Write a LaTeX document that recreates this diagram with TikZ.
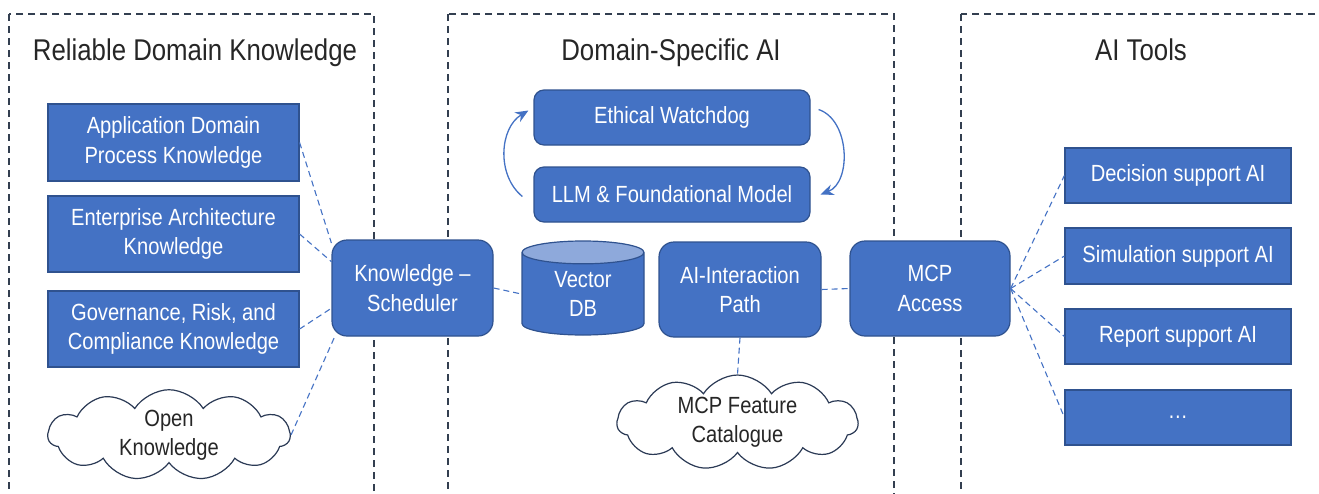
\documentclass[tikz,border=0pt]{standalone}
\usepackage{fontspec}
\setmainfont{Liberation Sans}[FakeStretch=0.86]
\usetikzlibrary{shapes.geometric,shapes.symbols,arrows.meta}

\definecolor{boxblue}{HTML}{4472C4}
\definecolor{boxedge}{HTML}{2F528F}
\definecolor{dbtop}{HTML}{8EA9DB}
\definecolor{frameline}{HTML}{333F50}
\definecolor{cloudedge}{HTML}{2B3A55}
\definecolor{titlegray}{HTML}{262626}

\tikzset{frame/.style={draw=frameline,line width=1.4pt,dash pattern=on 7pt off 5pt},
title/.style={font=\fontsize{30}{34}\selectfont,text=titlegray,anchor=base,inner sep=0pt},
blue box/.style={draw=boxedge,fill=boxblue,line width=1.2pt,text=white,align=center,inner sep=2pt,font=\fontsize{23.4}{29.5}\selectfont},
round box/.style={blue box,rounded corners=15pt},
thin box/.style={blue box,rounded corners=10pt},
cloud node/.style={cloud,cloud puffs=11,cloud puff arc=115,cloud ignores aspect,draw=cloudedge,fill=white,line width=1.2pt,text=titlegray,align=center,inner sep=0pt,font=\fontsize{23.4}{29.5}\selectfont},
db/.style={cylinder,shape border rotate=90,aspect=0.4,draw=boxedge,line width=1.2pt,cylinder uses custom fill,cylinder body fill=boxblue,cylinder end fill=dbtop,text=white,align=center,inner sep=0pt,font=\fontsize{23.4}{29.5}\selectfont},
link/.style={draw=boxblue,line width=1.1pt,dash pattern=on 6pt off 4pt},
loop arrow/.style={draw=boxblue,line width=1.3pt,-{Stealth[length=13pt,width=11pt]}}}

\begin{document}
\begin{tikzpicture}[x=1pt,y=-1pt]
\useasboundingbox (0,0) rectangle (1319,493);
\clip (0,0) rectangle (1319,493);

%% dashed frames
\draw [frame] (9,14) rectangle (374,520);
\draw [frame] (448,14) rectangle (894,520);
\draw [frame] (961,14) rectangle (1340,520);

%% frame titles
\node [title] (ttlknow) at (195,60) {Reliable Domain Knowledge};
\node [title] (ttldsai) at (671,60) {Domain-Specific AI};
\node [title] (ttltools) at (1141,60) {AI Tools};

%% knowledge sources
\node [blue box,minimum width=251,minimum height=77] (appdom) at (173.5,142.5) {Application Domain\\Process Knowledge};
\node [blue box,minimum width=251,minimum height=76] (entarch) at (173.5,234) {Enterprise Architecture\\Knowledge};
\node [blue box,minimum width=251,minimum height=76] (grc) at (173.5,329) {Governance, Risk, and\\Compliance Knowledge};
\node [cloud node,minimum width=242,minimum height=86] (openk) at (169,435) {Open\\Knowledge};

%% domain-specific AI
\node [round box,minimum width=161,minimum height=96] (sched) at (412.5,288) {Knowledge \textendash\\Scheduler};
\node [thin box,minimum width=276,minimum height=55] (ethic) at (672,117.5) {Ethical Watchdog};
\node [thin box,minimum width=276,minimum height=55] (llm) at (672,194.5) {LLM \& Foundational Model};
\node [db,minimum width=122,minimum height=94] (vecdb) at (583,294) {Vector\\DB};
\node [round box,minimum width=162,minimum height=95] (aipath) at (740,289.5) {AI-Interaction\\Path};
\node [cloud node,minimum width=241,minimum height=89] (mcpcat) at (737.5,422.5) {MCP Feature\\Catalogue};
\node [round box,minimum width=160,minimum height=95] (mcp) at (930,288.5) {MCP\\Access};

%% AI tools
\node [blue box,minimum width=226,minimum height=55] (decision) at (1178,175.5) {Decision support AI};
\node [blue box,minimum width=226,minimum height=56] (simul) at (1178,256) {Simulation support AI};
\node [blue box,minimum width=226,minimum height=55] (report) at (1178,336.5) {Report support AI};
\node [blue box,minimum width=226,minimum height=55] (more) at (1178,417.5) {\dots};

%% dashed links
\draw [link] (appdom.east) -- (sched.151);
\draw [link] (entarch.east) -- (sched.162);
\draw [link] (grc.east) -- (sched.194);
\draw [link] (openk.east) -- (sched.212);
\draw [link] (sched.east) -- (vecdb.west);
\draw [link] (aipath.east) -- (mcp.west);
\draw [link] (aipath.south) -- (mcpcat.north);
\draw [link] (mcp.east) -- (decision.west);
\draw [link] (mcp.east) -- (simul.west);
\draw [link] (mcp.east) -- (report.west);
\draw [link] (mcp.east) -- (more.west);

%% watchdog loop
\draw [loop arrow] ([shift={(-11,2)}]llm.west) to [bend left=55] ([shift={(-5,-7)}]ethic.west);
\draw [loop arrow] ([shift={(8,-8)}]ethic.east) to [bend left=70] ([shift={(10,0)}]llm.east);

\end{tikzpicture}
\end{document}
